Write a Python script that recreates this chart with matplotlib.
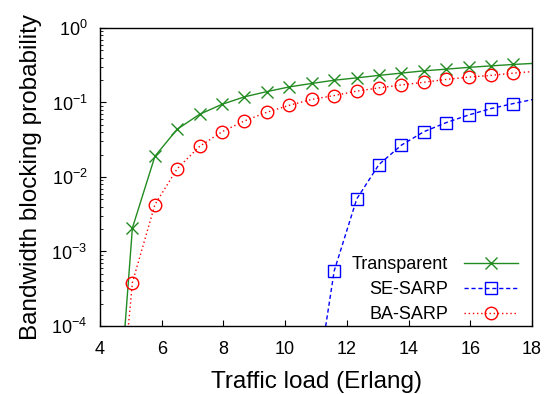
import numpy as np
import matplotlib
matplotlib.use('Agg')
import matplotlib.pyplot as plt
from matplotlib.ticker import LogLocator, FixedLocator, NullFormatter

plt.rcParams['font.family'] = ['Liberation Sans', 'DejaVu Sans']
plt.rcParams['mathtext.fontset'] = 'custom'
plt.rcParams['mathtext.rm'] = 'Liberation Sans'

# 数据
load = [4.32, 5.05, 5.78, 6.50, 7.23, 7.96, 8.68, 9.41, 10.14, 10.86,
        11.59, 12.32, 13.04, 13.77, 14.50, 15.22, 15.95, 16.68, 17.40, 18.13]
transparent = [2e-7, 0.00207, 0.019, 0.0437, 0.0695, 0.0947, 0.119, 0.140, 0.162, 0.180,
               0.199, 0.214, 0.231, 0.248, 0.266, 0.280, 0.296, 0.310, 0.324, 0.336]
ba_sarp = [2e-7, 0.000383, 0.00426, 0.0129, 0.0258, 0.0406, 0.0565, 0.074, 0.0918, 0.110,
           0.124, 0.142, 0.157, 0.172, 0.187, 0.204, 0.219, 0.231, 0.248, 0.262]
se_load = [10.86, 11.59, 12.32, 13.04, 13.77, 14.50, 15.22, 15.95, 16.68, 17.40, 18.13]
se_sarp = [6e-6, 0.00055, 0.00508, 0.0147, 0.0268, 0.0406, 0.0537, 0.068, 0.083, 0.0968, 0.112]

fig = plt.figure(figsize=(5.48, 3.94), dpi=100)
ax = fig.add_axes([0.1825, 0.1726, 0.7883, 0.7564])

# 最后一个点在坐标轴外, 不画标记
ax.plot(load, transparent, color='#228b22', linestyle='-', linewidth=1.0,
        marker='x', markersize=9, markeredgewidth=1.0, label='Transparent',
        markevery=slice(0, len(load) - 1))
ax.plot(se_load, se_sarp, color='#0000ff', linestyle=(0, (3, 2)), linewidth=1.0,
        marker='s', markersize=8, markerfacecolor='none', markeredgewidth=1.0,
        label='SE-SARP', markevery=slice(0, len(se_load) - 1))
ax.plot(load, ba_sarp, color='#ff0000', linestyle=(0, (1, 2)), linewidth=1.0,
        marker='o', markersize=9, markerfacecolor='none', markeredgewidth=1.0,
        label='BA-SARP', markevery=slice(0, len(load) - 1))

ax.set_yscale('log')
ax.set_xlim(4, 18)
ax.set_ylim(1e-4, 1)
ax.xaxis.set_major_locator(FixedLocator([4, 6, 8, 10, 12, 14, 16, 18]))
ax.yaxis.set_major_locator(LogLocator(base=10, numticks=10))
ax.yaxis.set_minor_locator(LogLocator(base=10, subs=np.arange(2, 10), numticks=10))
ax.yaxis.set_minor_formatter(NullFormatter())

ax.tick_params(axis='both', which='major', direction='in', length=4, width=0.8,
               labelsize=13, top=False, right=False)
ax.tick_params(axis='x', which='major', pad=11)
ax.tick_params(axis='y', which='major', pad=9)
ax.tick_params(axis='y', which='minor', direction='in', length=2, width=0.6, right=False)
for s in ax.spines.values():
    s.set_linewidth(1.0)

ax.set_xlabel('Traffic load (Erlang)', fontsize=17.5, labelpad=9)
ax.set_ylabel('Bandwidth blocking probability', fontsize=17.5, labelpad=7)

leg = ax.legend(loc='lower right', frameon=False, fontsize=13, markerfirst=False,
                handlelength=3.0, handletextpad=0.9, borderaxespad=0.0,
                labelspacing=0.45, bbox_to_anchor=(0.985, -0.015))
for t in leg.get_texts():
    t.set_ha('right')

fig.savefig('out.png', dpi=100)
